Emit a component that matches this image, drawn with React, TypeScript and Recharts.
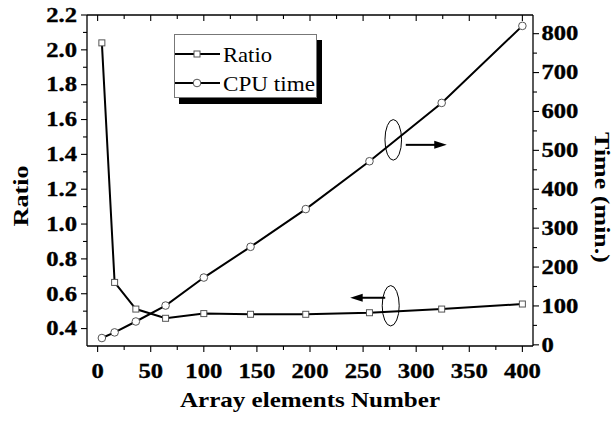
import React from 'react';
import { LineChart, Line, XAxis, YAxis, ReferenceDot, Customized } from 'recharts';

// ---- data ----
const arrayElements = [4, 16, 36, 64, 100, 144, 196, 256, 324, 400];
const ratioValues = [2.04, 0.665, 0.512, 0.459, 0.486, 0.482, 0.482, 0.491, 0.512, 0.541];
const cpuTimeValues = [17.5, 32, 60, 101, 173, 252, 349, 472, 622, 820];

// ---- axes ----
const xTicks = [0, 25, 50, 75, 100, 125, 150, 175, 200, 225, 250, 275, 300, 325, 350, 375, 400];
const ratioTicks = [0.4, 0.5, 0.6, 0.7, 0.8, 0.9, 1.0, 1.1, 1.2, 1.3, 1.4, 1.5, 1.6, 1.7, 1.8, 1.9, 2.0, 2.1, 2.2];
const timeTicks = [0, 50, 100, 150, 200, 250, 300, 350, 400, 450, 500, 550, 600, 650, 700, 750, 800];
const xDomain = [-10, 410];
const ratioDomain = [0.3, 2.2];
const timeDomain = [-3, 848];

// ---- annotation anchors (data coordinates) ----
const timeNote = { x: 278.4, y: 527 };
const ratioNote = { x: 276, y: 0.531 };

const seriesNames = ['Ratio', 'CPU time'];
const xTitle = 'Array elements Number';
const leftTitle = 'Ratio';
const rightTitle = 'Time (min.)';

const rows = arrayElements.map((x, i) => ({ x, ratio: ratioValues[i], time: cpuTimeValues[i] }));

const FONT = '"Liberation Serif", "Times New Roman", Times, serif';
const boldStyle: React.CSSProperties = { fontFamily: FONT, fontWeight: 700, fontSize: 20.5, fill: '#000', stroke: '#000', strokeWidth: 0.35 };
const titleStyle: React.CSSProperties = { fontFamily: FONT, fontWeight: 700, fontSize: 21, fill: '#000' };
const SX = 1.2;

const LeftTick = (p: any) => {
  const { x, y, payload } = p;
  const v = payload.value as number;
  const major = Math.round(v * 10) % 2 === 0;
  return (
    <g>
      <line x1={x - (major ? 6 : 4)} x2={x} y1={y} y2={y} stroke="#000" strokeWidth={1.1} />
      {major && (
        <g transform={`translate(${x - 10},${y}) scale(${SX},1)`}>
          <text x={0} y={0} textAnchor="end" dominantBaseline="central" style={boldStyle}>
            {v.toFixed(1)}
          </text>
        </g>
      )}
    </g>
  );
};

const RightTick = (p: any) => {
  const { x, y, payload } = p;
  const v = payload.value as number;
  const major = v % 100 === 0;
  return (
    <g>
      <line x1={x} x2={x + (major ? 6 : 4)} y1={y} y2={y} stroke="#000" strokeWidth={1.1} />
      {major && (
        <g transform={`translate(${x + 8.5},${y}) scale(${SX},1)`}>
          <text x={0} y={0} textAnchor="start" dominantBaseline="central" style={boldStyle}>
            {String(v)}
          </text>
        </g>
      )}
    </g>
  );
};

const BottomTick = (p: any) => {
  const { x, y, payload } = p;
  const v = payload.value as number;
  const major = v % 50 === 0;
  return (
    <g>
      <line x1={x} x2={x} y1={y} y2={y + (major ? 6 : 4)} stroke="#000" strokeWidth={1.1} />
      {major && (
        <g transform={`translate(${x},${y + 25.5}) scale(${SX},1)`}>
          <text x={0} y={0} textAnchor="middle" dominantBaseline="central" style={boldStyle}>
            {String(v)}
          </text>
        </g>
      )}
    </g>
  );
};

const TopTick = (p: any) => {
  const { x, y, payload } = p;
  const v = payload.value as number;
  const major = v % 50 === 0;
  return <line x1={x} x2={x} y1={y} y2={y + (major ? 6 : 4)} stroke="#000" strokeWidth={1.1} />;
};

const SquareDot = (p: any) => {
  const { cx, cy, index } = p;
  if (cx == null || cy == null) return <g key={`s${index}`} />;
  return <rect key={`s${index}`} x={cx - 3} y={cy - 3} width={6} height={6} fill="#fff" stroke="#555" strokeWidth={1} />;
};

const CircleDot = (p: any) => {
  const { cx, cy, index } = p;
  if (cx == null || cy == null) return <g key={`c${index}`} />;
  return <circle key={`c${index}`} cx={cx} cy={cy} r={3.8} fill="#fff" stroke="#555" strokeWidth={1} />;
};

const RightNote = (p: any) => {
  const { cx, cy } = p;
  return (
    <g>
      <ellipse cx={cx} cy={cy} rx={8.3} ry={20.3} fill="none" stroke="#000" strokeWidth={1} />
      <line x1={cx + 12.5} x2={cx + 43} y1={cy + 5} y2={cy + 5} stroke="#000" strokeWidth={2} />
      <polygon points={`${cx + 53.5},${cy + 5} ${cx + 41},${cy + 1} ${cx + 41},${cy + 9}`} fill="#000" />
    </g>
  );
};

const LeftNote = (p: any) => {
  const { cx, cy } = p;
  return (
    <g>
      <ellipse cx={cx} cy={cy} rx={8.5} ry={20.2} fill="none" stroke="#000" strokeWidth={1} />
      <line x1={cx - 5.5} x2={cx - 30} y1={cy - 8} y2={cy - 8} stroke="#000" strokeWidth={2} />
      <polygon points={`${cx - 40.5},${cy - 8} ${cx - 28},${cy - 12} ${cx - 28},${cy - 4}`} fill="#000" />
    </g>
  );
};

const legendText: React.CSSProperties = { fontFamily: FONT, fontWeight: 400, fontSize: 22, fill: '#000' };

const LegendBox = () => (
  <g transform="translate(174,34)">
    <rect x={5} y={6} width={143} height={64} fill="#000" />
    <rect x={0.5} y={0.5} width={142} height={63} fill="#fff" stroke="#777" strokeWidth={1} />
    <line x1={1} x2={46} y1={20} y2={20} stroke="#000" strokeWidth={2} />
    <rect x={20} y={17} width={6} height={6} fill="#fff" stroke="#555" strokeWidth={1} />
    <text x={49} y={20} dominantBaseline="central" style={legendText} textLength={49} lengthAdjust="spacingAndGlyphs">
      {seriesNames[0]}
    </text>
    <line x1={1} x2={46} y1={49} y2={49} stroke="#000" strokeWidth={2} />
    <circle cx={23} cy={49} r={3.8} fill="#fff" stroke="#555" strokeWidth={1} />
    <text x={49} y={49} dominantBaseline="central" style={legendText} textLength={92} lengthAdjust="spacingAndGlyphs">
      {seriesNames[1]}
    </text>
  </g>
);

const XTitle = () => (
  <text x={310} y={406.5} textAnchor="middle" style={titleStyle} textLength={260} lengthAdjust="spacingAndGlyphs">
    {xTitle}
  </text>
);

const LeftTitle = () => (
  <text transform="translate(28,196) rotate(-90)" x={0} y={0} textAnchor="middle" style={titleStyle} textLength={61} lengthAdjust="spacingAndGlyphs">
    {leftTitle}
  </text>
);

const RightTitle = () => (
  <text transform="translate(595,197.5) rotate(90)" x={0} y={0} textAnchor="middle" style={titleStyle} textLength={131} lengthAdjust="spacingAndGlyphs">
    {rightTitle}
  </text>
);

export default function App() {
  return (
    <div style={{ position: 'absolute', left: 0, top: 0, width: 614, height: 421, background: '#fff' }}>
      <LineChart width={614} height={421} data={rows} margin={{ top: 14, right: 21, bottom: 25, left: 27 }}>
        <XAxis
          xAxisId="b"
          type="number"
          dataKey="x"
          domain={xDomain}
          ticks={xTicks}
          interval={0}
          allowDataOverflow
          height={50}
          tickSize={0}
          tickMargin={0}
          tickLine={false}
          axisLine={{ stroke: '#000', strokeWidth: 1.3 }}
          tick={BottomTick}
          label={<XTitle />}
        />
        <XAxis
          xAxisId="t"
          orientation="top"
          type="number"
          dataKey="x"
          domain={xDomain}
          ticks={xTicks}
          interval={0}
          allowDataOverflow
          height={1}
          tickSize={0}
          tickMargin={0}
          tickLine={false}
          axisLine={{ stroke: '#000', strokeWidth: 1.3 }}
          tick={TopTick}
        />
        <YAxis
          yAxisId="l"
          type="number"
          domain={ratioDomain}
          ticks={ratioTicks}
          interval={0}
          allowDataOverflow
          width={60}
          tickSize={0}
          tickMargin={0}
          tickLine={false}
          axisLine={{ stroke: '#000', strokeWidth: 1.3 }}
          tick={LeftTick}
          label={<LeftTitle />}
        />
        <YAxis
          yAxisId="r"
          orientation="right"
          type="number"
          domain={timeDomain}
          ticks={timeTicks}
          interval={0}
          allowDataOverflow
          width={60}
          tickSize={0}
          tickMargin={0}
          tickLine={false}
          axisLine={{ stroke: '#000', strokeWidth: 1.3 }}
          tick={RightTick}
          label={<RightTitle />}
        />
        <Line xAxisId="b" yAxisId="r" type="linear" dataKey="time" name={seriesNames[1]} stroke="#000" strokeWidth={2} dot={CircleDot} isAnimationActive={false} />
        <Line xAxisId="b" yAxisId="l" type="linear" dataKey="ratio" name={seriesNames[0]} stroke="#000" strokeWidth={2} dot={SquareDot} isAnimationActive={false} />
        <ReferenceDot xAxisId="b" yAxisId="r" x={timeNote.x} y={timeNote.y} ifOverflow="visible" shape={RightNote} />
        <ReferenceDot xAxisId="b" yAxisId="l" x={ratioNote.x} y={ratioNote.y} ifOverflow="visible" shape={LeftNote} />
        <Customized component={LegendBox} />
      </LineChart>
    </div>
  );
}
